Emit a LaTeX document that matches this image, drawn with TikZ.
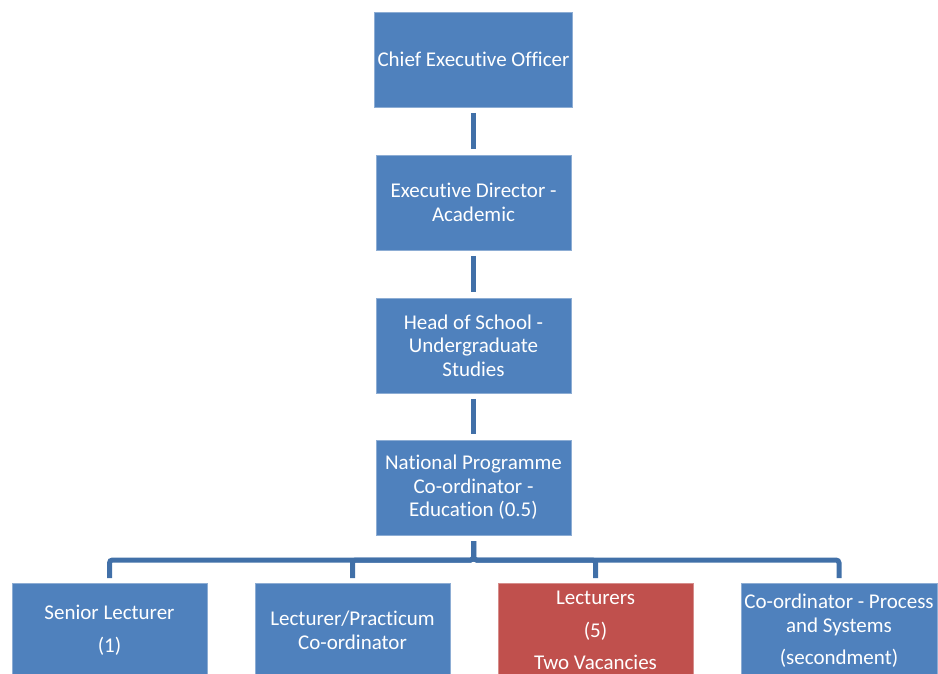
\documentclass[tikz,border=0pt]{standalone}
\usepackage{fontspec}
\setmainfont{Carlito}[Ligatures=NoCommon]
\usepackage{xcolor}
\usetikzlibrary{positioning}

\definecolor{boxblue}{HTML}{4F81BD}
\definecolor{boxred}{HTML}{C0504D}
\definecolor{linkblue}{HTML}{4170A8}

\begin{document}
\begin{tikzpicture}[
				x=1pt, y=1pt,
				node distance=48pt,
				link/.style={linkblue, line width=5pt, shorten <=6pt, shorten >=6pt},
				bus/.style={link, shorten >=5pt, rounded corners=3pt},
				block/.style={fill=boxblue, draw=boxblue!65!white, line width=0.8pt, outer sep=0pt,
					minimum width=195pt, minimum height=95pt, text=white, align=center,
					font=\fontsize{21}{23.5}\selectfont},
				vacancy/.style={block, fill=boxred, draw=boxred!65!white},
			]
				\clip (0,0) rectangle (938,673);

				\node[block] (ceo) at (473.5,613.5) {Chief Executive Officer};
				\node[block, below=of ceo] (director) {Executive Director -\\Academic};
				\node[block, below=of director] (head) {Head of School -\\Undergraduate\\Studies};
				\node[block, below=47pt of head] (coordinator) {National Programme\\Co-ordinator -\\Education (0.5)};

				\node[block] (senior) at (109.5,42.5) {Senior Lecturer\\[9.5pt](1)};
				\node[block, right=of senior] (practicum) {Lecturer/Practicum\\Co-ordinator};
				\node[vacancy, right=of practicum] (lecturers) {Lecturers\\[9.5pt](5)\\[8.5pt]Two Vacancies};
				\node[block, right=of lecturers] (process) {Co-ordinator - Process\\and Systems\\[8.5pt](secondment)};

				\draw[link] (ceo) -- (director);
				\draw[link] (director) -- (head);
				\draw[link] (head) -- (coordinator);

				\draw[bus] (coordinator.south) -- ++(0,-25) -| (senior.north);
				\draw[bus] (coordinator.south) -- ++(0,-25) -| (practicum.north);
				\draw[bus] (coordinator.south) -- ++(0,-25) -| (lecturers.north);
				\draw[bus] (coordinator.south) -- ++(0,-25) -| (process.north);
			\end{tikzpicture}
\end{document}
